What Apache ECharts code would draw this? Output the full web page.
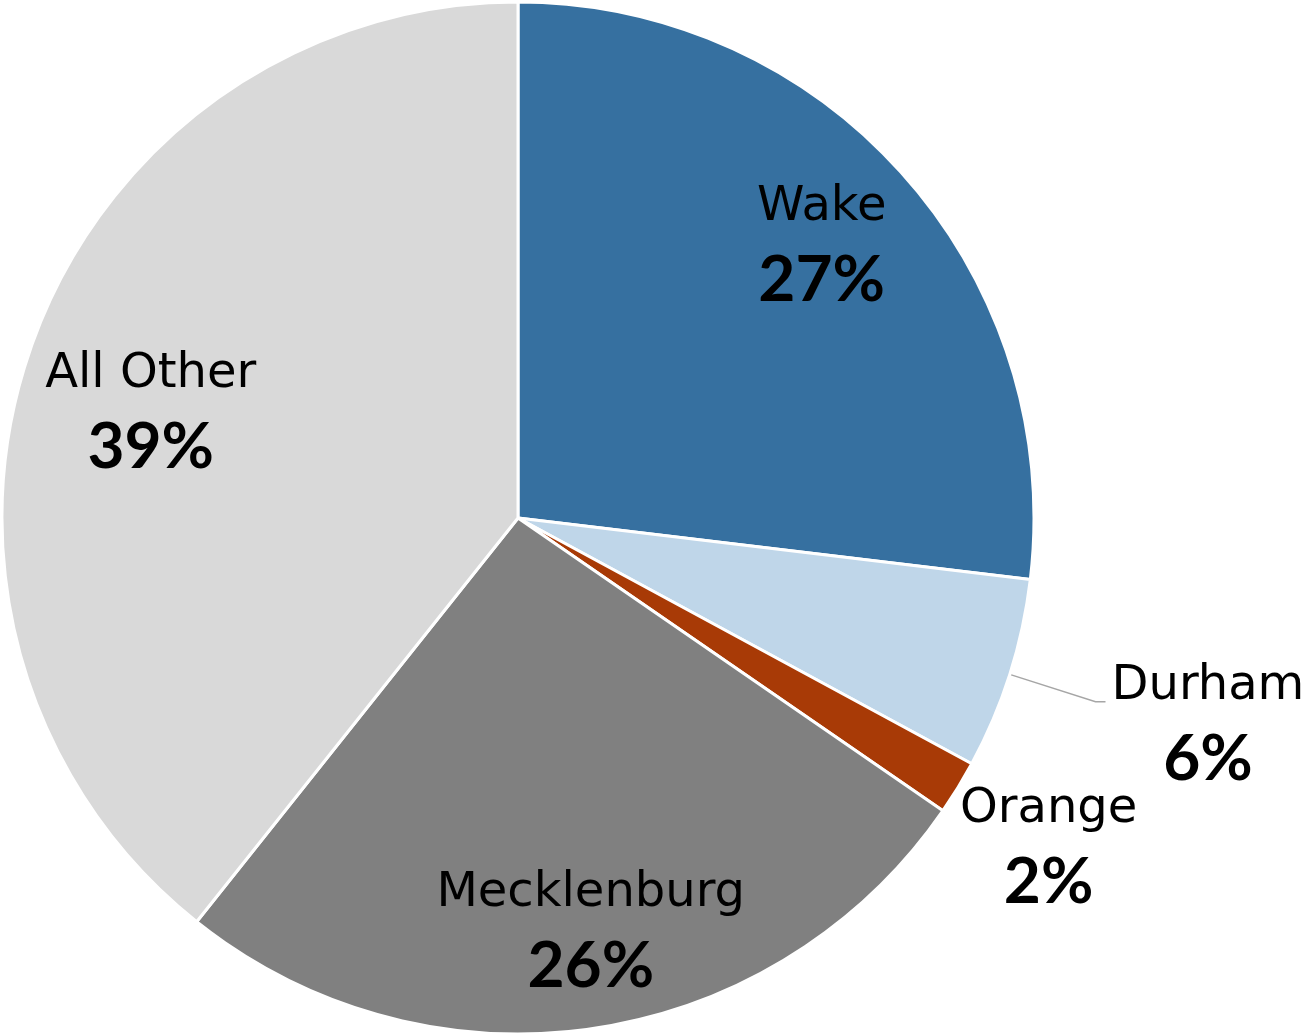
<!DOCTYPE html>
<html>
<head>
<meta charset="utf-8">
<script src="https://cdn.jsdelivr.net/npm/echarts@6/dist/echarts.min.js"></script>
<style>
    html, body { margin: 0; padding: 0; background: #fff; }
    #main { width: 1311px; height: 1036px; }
</style>
</head>
<body>
<div id="main"></div>
<script>
// county share (clockwise from 12 o'clock)
var counties = ['Wake', 'Durham', 'Orange', 'Mecklenburg', 'All Other'];
var shares = [26.9, 6.0, 1.7, 26.1, 39.3];
var colors = ['#3670a0', '#bfd6e9', '#a83a06', '#808080', '#d9d9d9'];

var richStyle = {
    g: {
        fontSize: 10,
        lineHeight: 52
    },
    n: {
        fontFamily: '"DejaVu Sans", "Open Sans", sans-serif',
        fontSize: 48,
        color: '#000',
        lineHeight: 64,
        align: 'center'
    },
    p: {
        fontFamily: 'Lato, "Noto Sans", sans-serif',
        fontSize: 64,
        fontWeight: 'bold',
        color: '#000',
        lineHeight: 82,
        align: 'center'
    }
};

function labelText(params) {
    var s = '{n|' + params.name + '}\n{p|' + Math.round(params.percent) + '%}';
    // durham's leader line meets the bottom of the name, not the middle
    if (params.name === 'Durham') {
        s = '{g| }\n' + s;
    }
    return s;
}

// small nudges so the labels sit where the original has them
function nudge(params) {
    var name = counties[params.dataIndex];
    if (name === 'Orange') return {dx: -4, dy: 63};
    if (name === 'All Other') return {dx: 16, dy: 31};
    if (name === 'Mecklenburg') return {dx: 13, dy: 15};
    return {};
}

var chart = echarts.init(document.getElementById('main'));

var sliceData = [];
var labelData = [];
for (var i = 0; i < counties.length; i++) {
    sliceData.push({
        name: counties[i],
        value: shares[i],
        itemStyle: {color: colors[i]}
    });
    var item = {
        name: counties[i],
        value: shares[i],
        itemStyle: {color: 'rgba(0,0,0,0)', borderWidth: 0}
    };
    if (counties[i] === 'Durham') {
        item.label = {position: 'outside', distanceToLabelLine: 6};
        item.labelLine = {show: true, length: 90, length2: 10,
            lineStyle: {color: '#a6a6a6', width: 1.5}};
    } else if (counties[i] === 'Orange') {
        item.label = {position: 'outside', distanceToLabelLine: 6};
        item.labelLine = {show: false, length: 0, length2: 0};
    }
    labelData.push(item);
}

var option = {
    animation: false,
    series: [
        {
            name: 'share',
            type: 'pie',
            center: [518, 518],
            radius: [0, 516],
            startAngle: 90,
            clockwise: true,
            silent: true,
            label: {show: false},
            labelLine: {show: false},
            itemStyle: {borderColor: '#fff', borderWidth: 3},
            data: sliceData
        },
        {
            name: 'labels',
            type: 'pie',
            center: [518, 518],
            radius: [290, 516],
            startAngle: 90,
            clockwise: true,
            silent: true,
            avoidLabelOverlap: false,
            label: {
                show: true,
                position: 'inside',
                formatter: labelText,
                rich: richStyle
            },
            labelLine: {show: false},
            labelLayout: nudge,
            data: labelData
        }
    ]
};

chart.setOption(option);
</script>
</body>
</html>
